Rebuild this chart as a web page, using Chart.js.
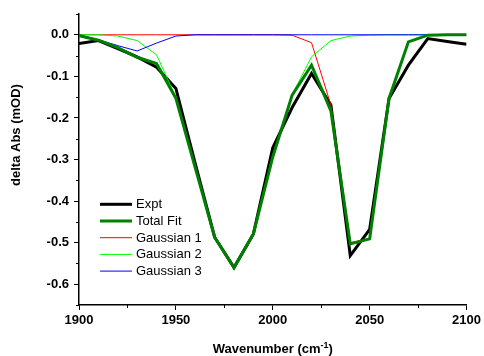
<!DOCTYPE html>
<html>
<head>
<meta charset="utf-8">
<script src="https://cdn.jsdelivr.net/npm/chart.js@4/dist/chart.umd.min.js"></script>
<style>
  body { margin: 0; background: #fff; }
</style>
</head>
<body>
<canvas id="fit-chart" width="484" height="356"></canvas>
<script>
// --- datos ---
const wavenumber = [1900, 1910, 1920, 1930, 1940, 1950, 1960, 1970, 1980, 1990, 2000,
                    2010, 2020, 2030, 2040, 2050, 2060, 2070, 2080, 2090, 2100];
const expt      = [-0.021, -0.014, -0.033, -0.053, -0.078, -0.129, -0.310, -0.487, -0.560, -0.479, -0.272,
                   -0.175, -0.093, -0.169, -0.531, -0.468, -0.153, -0.073, -0.009, -0.016, -0.023];
const totalFit  = [-0.002, -0.013, -0.031, -0.054, -0.069, -0.153, -0.320, -0.487, -0.560, -0.479, -0.294,
                   -0.145, -0.073, -0.183, -0.503, -0.491, -0.153, -0.017, -0.001, 0, 0];
const gaussian1 = [0, 0, 0, 0, 0, 0, 0, 0, 0, 0, 0,
                   -0.001, -0.019, -0.169, -0.500, -0.490, -0.153, -0.017, -0.001, 0, 0];
const gaussian2 = [0, 0, -0.003, -0.014, -0.048, -0.150, -0.320, -0.487, -0.560, -0.479, -0.294,
                   -0.144, -0.053, -0.014, -0.003, -0.001, 0, 0, 0, 0, 0];
const gaussian3 = [0, -0.012, -0.026, -0.039, -0.020, -0.003, 0, 0, 0, 0, 0,
                   0, 0, 0, 0, 0, 0, 0, 0, 0, 0];

const xTicks = [1900, 1950, 2000, 2050, 2100];
const xMinorTicks = [1925, 1975, 2025, 2075];
const yTicks = [0, -0.1, -0.2, -0.3, -0.4, -0.5, -0.6];
const yMinorTicks = [0.05, -0.05, -0.15, -0.25, -0.35, -0.45, -0.55, -0.65];

const FONT = '"Liberation Sans", Arial, sans-serif';

function points(ys) {
    return wavenumber.map((x, i) => ({ x, y: ys[i] }));
}

function lineSet(label, ys, color, width, order) {
    return {
        label,
        data: points(ys),
        borderColor: color,
        backgroundColor: color,
        borderWidth: width,
        borderJoinStyle: 'miter',
        pointRadius: 0,
        tension: 0,
        order
    };
}

// ticks menores, titulos de ejes (con superindice) y leyenda interna
const extrasPlugin = {
    id: 'extras',
    afterDraw(chart) {
        const { ctx, chartArea, scales } = chart;
        ctx.save();
        ctx.strokeStyle = '#000';
        ctx.lineWidth = 1;
        ctx.beginPath();
        xMinorTicks.forEach(v => {
            const px = Math.round(scales.x.getPixelForValue(v)) + 0.5;
            ctx.moveTo(px, chartArea.bottom);
            ctx.lineTo(px, chartArea.bottom + 3);
        });
        yMinorTicks.forEach(v => {
            const py = Math.round(scales.y.getPixelForValue(v)) + 0.5;
            ctx.moveTo(chartArea.left - 3, py);
            ctx.lineTo(chartArea.left, py);
        });
        ctx.stroke();

        // leyenda
        ctx.font = '13px ' + FONT;
        ctx.textAlign = 'left';
        ctx.textBaseline = 'middle';
        chart.data.datasets.forEach((ds, i) => {
            const y = 204.3 + i * 16.7;
            ctx.strokeStyle = ds.borderColor;
            ctx.lineWidth = ds.borderWidth;
            ctx.beginPath();
            ctx.moveTo(100, y);
            ctx.lineTo(132, y);
            ctx.stroke();
            ctx.fillStyle = '#000';
            ctx.fillText(ds.label, 136, y + 0.5);
        });

        ctx.fillStyle = '#000';
        ctx.textBaseline = 'alphabetic';
        // x title
        const main = 'Wavenumber (cm';
        const sup = '-1';
        const close = ')';
        ctx.font = 'bold 13px ' + FONT;
        const wMain = ctx.measureText(main).width;
        const wClose = ctx.measureText(close).width;
        ctx.font = 'bold 9px ' + FONT;
        const wSup = ctx.measureText(sup).width;
        const total = wMain + wSup + wClose;
        const x = (chartArea.left + chartArea.right) / 2 - total / 2;
        const base = 352.5;
        ctx.font = 'bold 13px ' + FONT;
        ctx.fillText(main, x, base);
        ctx.font = 'bold 9px ' + FONT;
        ctx.fillText(sup, x + wMain, base - 5);
        ctx.font = 'bold 13px ' + FONT;
        ctx.fillText(close, x + wMain + wSup, base);

        // y title
        ctx.translate(20, 135);
        ctx.rotate(-Math.PI / 2);
        ctx.textAlign = 'center';
        ctx.fillText('delta Abs (mOD)', 0, 0);
        ctx.restore();
    }
};

const chart = new Chart(document.getElementById('fit-chart'), {
    type: 'line',
    data: {
        datasets: [
            lineSet('Expt', expt, '#000000', 3, 4),
            lineSet('Total Fit', totalFit, '#008000', 3, 0),
            lineSet('Gaussian 1', gaussian1, '#ff0000', 1, 3),
            lineSet('Gaussian 2', gaussian2, '#00ff00', 1, 2),
            lineSet('Gaussian 3', gaussian3, '#0000ff', 1, 1)
        ]
    },
    options: {
        responsive: false,
        animation: false,
        devicePixelRatio: 1,
        layout: { padding: { top: 14, right: 16, left: 0, bottom: 0 } },
        plugins: { legend: { display: false }, tooltip: { enabled: false } },
        scales: {
            x: {
                type: 'linear',
                min: 1900,
                max: 2100,
                afterBuildTicks: s => { s.ticks = xTicks.map(v => ({ value: v })); },
                afterFit: s => { s.height = 51; },
                ticks: { color: '#000', font: { family: FONT, size: 13, weight: 'bold' }, padding: 3, maxRotation: 0, autoSkip: false, callback: v => String(v) },
                grid: { drawOnChartArea: false, tickLength: 5, color: '#000', lineWidth: 1 },
                border: { color: '#000', width: 1.5 }
            },
            y: {
                type: 'linear',
                min: -0.65,
                max: 0.05,
                afterBuildTicks: s => { s.ticks = yTicks.map(v => ({ value: v })); },
                afterFit: s => { s.width = 79; },
                ticks: { color: '#000', font: { family: FONT, size: 13, weight: 'bold' }, padding: 5, autoSkip: false, callback: v => v.toFixed(1) },
                grid: { drawOnChartArea: false, tickLength: 5, color: '#000', lineWidth: 1 },
                border: { color: '#000', width: 1.5 }
            }
        }
    },
    plugins: [extrasPlugin]
});
</script>
</body>
</html>
